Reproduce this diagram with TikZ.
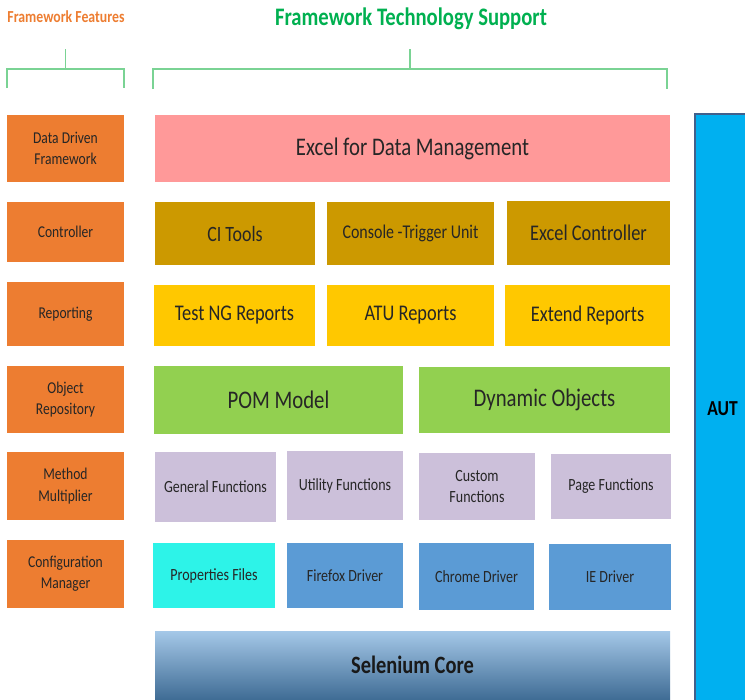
\documentclass[tikz,border=0pt]{standalone}
\usepackage{fontspec}
\setmainfont{Carlito}[FakeStretch=0.82]
\usepackage{tikz}
\usepackage{xcolor}

\definecolor{cOrange}{HTML}{ED7D31}
\definecolor{cPink}{HTML}{FF9999}
\definecolor{cGold}{HTML}{CC9900}
\definecolor{cYellow}{HTML}{FFC800}
\definecolor{cGreen}{HTML}{92D050}
\definecolor{cLavender}{HTML}{CCC0DA}
\definecolor{cCyan}{HTML}{2DF3E8}
\definecolor{cBlue}{HTML}{5B9BD5}
\definecolor{cAut}{HTML}{00B0F0}
\definecolor{cAutLine}{HTML}{41608C}
\definecolor{cBracket}{HTML}{7AD394}
\definecolor{cTitle}{HTML}{00B050}
\definecolor{cInk}{HTML}{262626}

\begin{document}
\begin{tikzpicture}[x=0.75pt,y=0.75pt,yscale=-1,xscale=1,
    sz/.style 2 args={minimum width=#1*0.75pt, minimum height=#2*0.75pt},
    blk/.style={draw=none, inner sep=0.75pt, align=center, text=cInk},
    side/.style={blk, fill=cOrange, font=\fontsize{12.4}{16}\selectfont},
    big/.style={font=\fontsize{19}{22}\selectfont},
    mid/.style={font=\fontsize{16.8}{20}\selectfont},
    small/.style={font=\fontsize{12.8}{16}\selectfont},
    brk/.style={draw=cBracket, line width=1.1pt}]
    \useasboundingbox (0,0) rectangle (745,699);

    % Text Node
    \node [text=cOrange, font=\bfseries\fontsize{12.6}{14}\selectfont] (featT) at (66,17) {Framework Features};
    % Text Node
    \node [text=cTitle, font=\bfseries\fontsize{18.9}{22}\selectfont] (techT) at (411,19) {Framework Technology Support};

    %Shape: Brackets
    \draw [brk] (7,88) -- (7,69) -- (124,69) -- (124,88) (65.5,69) -- (65.5,49) ;
    \draw [brk] (153,89) -- (153,69) -- (667,69) -- (667,89) (410,69) -- (410,49) ;

    % Framework features
    \node [side, sz={117}{67}] (ddf) at (65.5,148.5) {Data Driven\\Framework};
    \node [side, sz={117}{60}] (ctrl) at (65.5,232) {Controller};
    \node [side, sz={117}{64}] (rep) at (65.5,314) {Reporting};
    \node [side, sz={117}{67}] (objrep) at (65.5,399.5) {Object\\Repository};
    \node [side, sz={117}{68}] (meth) at (65.5,486) {Method\\Multiplier};
    \node [side, sz={117}{68}] (conf) at (65.5,574) {Configuration\\Manager};

    % Technology support
    \node [blk, big, fill=cPink, sz={515}{67}] (excel) at (412.5,148.5) {Excel for Data Management};

    \node [blk, fill=cGold, sz={160}{63}, font=\fontsize{16.4}{20}\selectfont] (ci) at (235,233.5) {CI Tools};
    \node [blk, fill=cGold, sz={167}{63}, font=\fontsize{14.6}{18}\selectfont] (console) at (410.5,233.5) {Console -Trigger Unit};
    \node [blk, mid, fill=cGold, sz={163}{64}] (exctrl) at (588.5,233) {Excel Controller};

    \node [blk, mid, fill=cYellow, sz={161}{61}] (testng) at (234.5,315.5) {Test NG Reports};
    \node [blk, mid, fill=cYellow, sz={167}{61}] (atu) at (410.5,315.5) {ATU Reports};
    \node [blk, mid, fill=cYellow, sz={165}{61}] (extend) at (587.5,315.5) {Extend Reports};

    \node [blk, fill=cGreen, sz={249}{68}, font=\fontsize{19}{22}\selectfont] (pom) at (278.5,400) {POM Model};
    \node [blk, fill=cGreen, sz={251}{66}, font=\fontsize{19}{22}\selectfont] (dyn) at (544.5,400) {Dynamic Objects};

    \node [blk, small, fill=cLavender, sz={121}{70}] (gen) at (215.5,487) {General Functions};
    \node [blk, small, fill=cLavender, sz={116}{69}] (util) at (345,485.5) {Utility Functions};
    \node [blk, small, fill=cLavender, sz={116}{67}] (cust) at (477,486.5) {Custom\\Functions};
    \node [blk, small, fill=cLavender, sz={120}{65}] (page) at (611,486.5) {Page Functions};

    \node [blk, small, fill=cCyan, sz={122}{65}] (prop) at (214,575.5) {Properties Files};
    \node [blk, small, fill=cBlue, sz={116}{65}] (ffx) at (345,575.5) {Firefox Driver};
    \node [blk, small, fill=cBlue, sz={115}{67}] (chrome) at (476.5,576.5) {Chrome Driver};
    \node [blk, small, fill=cBlue, sz={122}{66}] (ie) at (610,577) {IE Driver};

    \node [blk, sz={515}{68}, top color=cBlue!55!white, bottom color=cBlue!70!black, font=\bfseries\fontsize{18.7}{22}\selectfont, text=black!90] (sel) at (412.5,665) {Selenium Core};

    % AUT
    \node [blk, sz={55}{589}, fill=cAut, draw=cAutLine, line width=1.2pt, font=\bfseries\fontsize{16}{18}\selectfont, text=black] (aut) at (722.5,408.5) {AUT};

\end{tikzpicture}
\end{document}
